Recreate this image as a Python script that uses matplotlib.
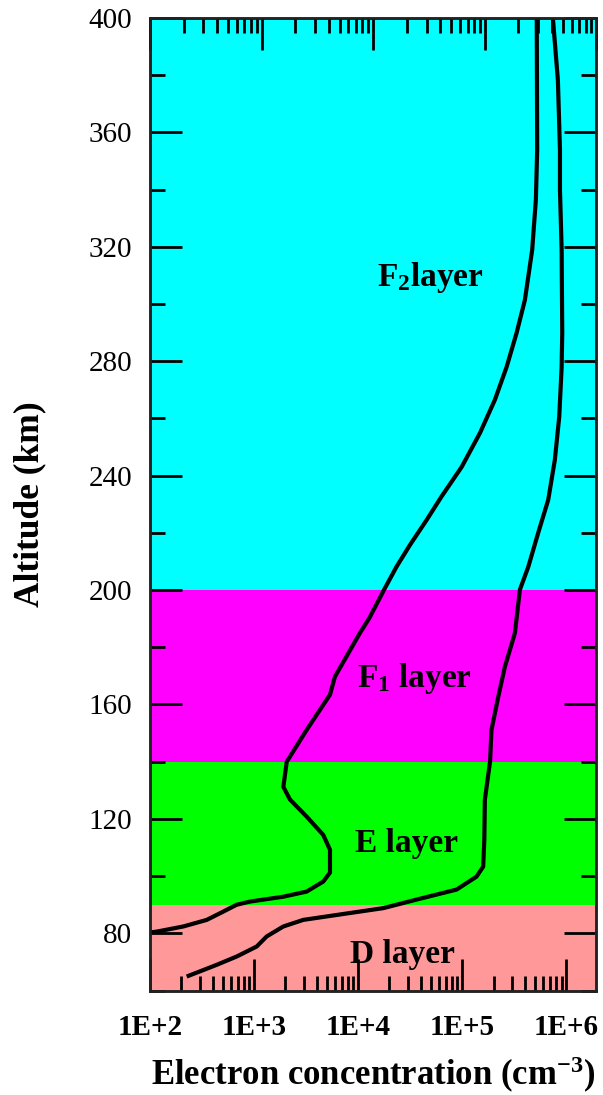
import numpy as np
import matplotlib
matplotlib.use("Agg")
import matplotlib.pyplot as plt
from matplotlib.ticker import FixedLocator, LogLocator, NullFormatter, MultipleLocator

plt.rcParams['font.family'] = ['Liberation Serif', 'DejaVu Serif']
plt.rcParams['mathtext.fontset'] = 'custom'
plt.rcParams['mathtext.rm'] = 'Liberation Serif:bold'
plt.rcParams['mathtext.it'] = 'Liberation Serif:bold'
plt.rcParams['mathtext.bf'] = 'Liberation Serif:bold'

# ---------------- data ----------------
layer_names = ["D layer", "E layer", "F$_{1}$ layer", "F$_{2}$layer"]
layer_bottom = [60, 90, 140, 200]
layer_top = [90, 140, 200, 400]
layer_colors = ["#FF9999", "#00FF00", "#FF00FF", "#00FFFF"]

# left profile (lower densities)
alt_low = [400, 353.9, 336.4, 318.9, 301.4, 289.9, 278.0, 266.5, 254.9, 243.1,
           232.6, 224.5, 215.8, 208.2, 200.7, 190.2, 185.0, 169.7, 163.4, 151.1,
           140.0, 131.2, 126.8, 120.8, 114.4, 109.2, 101.2, 98.1, 94.6, 92.8,
           91.1, 90.0, 87.6, 84.7, 82.4, 80.6, 80.3]
ne_low = [5.2e5, 5.25e5, 5.1e5, 4.7e5, 4.0e5, 3.33e5, 2.67e5, 2.06e5, 1.48e5, 9.9e4,
          6.3e4, 4.55e4, 3.15e4, 2.34e4, 1.81e4, 1.28e4, 1.04e4, 5.98e3, 5.36e3, 3.2e3,
          2.06e3, 1.91e3, 2.21e3, 3.2e3, 4.62e3, 5.36e3, 5.36e3, 4.62e3, 3.2e3, 1.91e3,
          914, 681, 506, 351, 209, 116, 100]

# right profile (higher densities)
alt_high = [400, 378.3, 353.9, 339.9, 318.9, 289.9, 278.0, 260.5, 245.5, 231.5,
            220.0, 208.1, 200.1, 185.0, 173.2, 162.7, 151.1, 140.0, 126.7, 112.7,
            103.3, 99.8, 95.3, 91.8, 88.8, 87.1, 84.7, 82.4, 78.9, 75.4,
            71.9, 69.0, 66.7, 64.9]
ne_high = [7.43e5, 8.3e5, 8.69e5, 8.69e5, 9.02e5, 9.14e5, 9.02e5, 8.55e5, 7.76e5, 6.7e5,
           5.37e5, 4.31e5, 3.58e5, 3.21e5, 2.57e5, 2.22e5, 1.91e5, 1.85e5, 1.65e5, 1.63e5,
           1.59e5, 1.37e5, 8.83e4, 3.65e4, 1.74e4, 8.34e3, 2.97e3, 1.91e3, 1.32e3, 1.06e3,
           681, 438, 302, 225]

x_ticks = [1e2, 1e3, 1e4, 1e5, 1e6]
x_ticklabels = ["1E+2", "1E+3", "1E+4", "1E+5", "1E+6"]
y_ticks = [80, 120, 160, 200, 240, 280, 320, 360, 400]

# label anchor positions (data coords)
label_x = [8.3e3, 9.3e3, 9.7e3, 1.52e4]
label_y = [69.7, 108.5, 166.2, 306.3]

# ---------------- figure ----------------
fig = plt.figure(figsize=(6.03, 10.95), dpi=100)
ax = fig.add_axes([0.2488, 0.0954, 0.9892 - 0.2488, 0.9836 - 0.0954])

ax.set_xscale('log')
ax.set_xlim(1e2, 1.95e6)
ax.set_ylim(60, 400)

for b, t, c in zip(layer_bottom, layer_top, layer_colors):
    ax.axhspan(b, t, color=c, lw=0, zorder=0)

ax.plot(ne_low, alt_low, color='black', lw=3.0, zorder=3,
        solid_capstyle='butt', solid_joinstyle='round')
ax.plot(ne_high, alt_high, color='black', lw=3.0, zorder=3,
        solid_capstyle='butt', solid_joinstyle='round')

for name, lx, ly in zip(layer_names, label_x, label_y):
    ax.text(lx, ly, name, fontsize=24, fontweight='bold', ha='left', va='baseline',
            zorder=4)

ax.xaxis.set_major_locator(FixedLocator(x_ticks))
ax.set_xticklabels(x_ticklabels, fontsize=21, fontweight='bold')
ax.xaxis.set_minor_locator(LogLocator(base=10, subs=np.arange(2, 10)))
ax.xaxis.set_minor_formatter(NullFormatter())

ax.yaxis.set_major_locator(FixedLocator(y_ticks))
ax.set_yticklabels([str(v) for v in y_ticks], fontsize=21)
ax.yaxis.set_minor_locator(MultipleLocator(20))

ax.tick_params(which='major', direction='in', length=23, width=2, top=False, right=True,
               bottom=True, left=True)
ax.tick_params(which='minor', direction='in', length=11, width=2, top=False, right=True,
               bottom=True, left=True)
ax.tick_params(axis='x', which='major', pad=17)
ax.tick_params(axis='y', which='major', pad=13)

# top axis: separate log scale spanning four decades
axt = ax.twiny()
axt.set_xscale('log')
axt.set_xlim(1e2, 1e6)
axt.xaxis.set_major_locator(LogLocator(base=10))
axt.xaxis.set_minor_locator(LogLocator(base=10, subs=np.arange(2, 10)))
axt.xaxis.set_major_formatter(NullFormatter())
axt.xaxis.set_minor_formatter(NullFormatter())
axt.tick_params(which='major', direction='in', length=23, width=2, top=True, labeltop=False)
axt.tick_params(which='minor', direction='in', length=11, width=2, top=True, labeltop=False)

for a in (ax, axt):
    for s in a.spines.values():
        s.set_linewidth(1.8)
        s.set_color('#222222')

ax.set_xlabel("Electron concentration (cm$^{\\mathrm{-3}}$)", fontsize=25, fontweight='bold',
              labelpad=10)
ax.set_ylabel("Altitude (km)", fontsize=25.5, fontweight='bold', labelpad=30)

fig.savefig("out.png", dpi=100)
